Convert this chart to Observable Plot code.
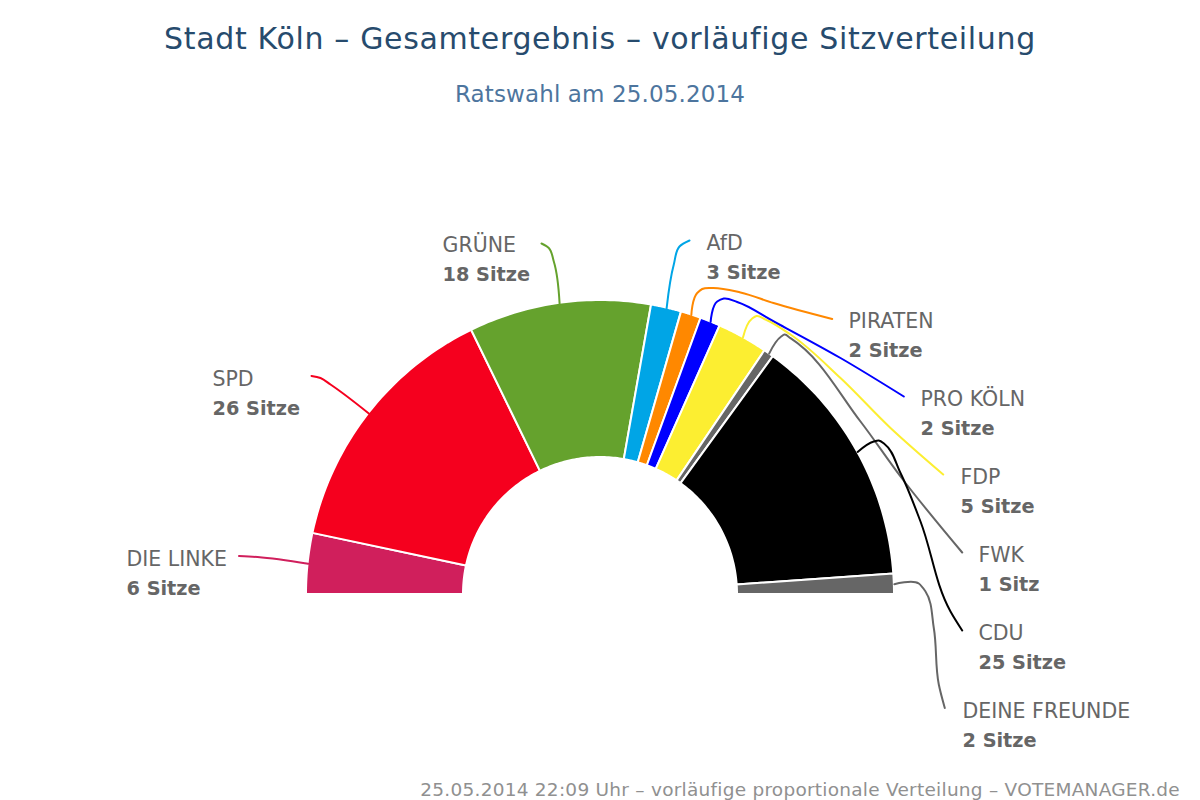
<!DOCTYPE html>
<html lang="de">
<head>
<meta charset="utf-8">
<title>Stadt Köln – Sitzverteilung</title>
<script src="https://cdn.jsdelivr.net/npm/d3@7"></script>
<script src="https://cdn.jsdelivr.net/npm/@observablehq/plot@0.6"></script>
<style>
  html, body { margin: 0; padding: 0; background: #fff; }
  body { width: 1200px; height: 800px; overflow: hidden; position: relative; font-family: "DejaVu Sans", sans-serif; }
  #head { height: 120px; position: relative; }
  #t1, #t2, #foot { position: absolute; white-space: nowrap; }
  #t1 { left: 0; width: 1200px; text-align: center; top: 19px; line-height: 40px; font-size: 30px; letter-spacing: 0.66px; color: #274b6d; }
  #t2 { left: 0; width: 1200px; text-align: center; top: 79px; line-height: 30px; font-size: 23px; letter-spacing: 0.13px; color: #4d759e; }
  #foot { right: 20px; top: 777px; line-height: 26px; font-size: 18.5px; letter-spacing: 0.25px; color: #909090; }
  #chart svg { display: block; }
</style>
</head>
<body>
<div id="head">
  <div id="t1">Stadt Köln – Gesamtergebnis – vorläufige Sitzverteilung</div>
  <div id="t2">Ratswahl am 25.05.2014</div>
</div>
<div id="chart"></div>
<div id="foot">25.05.2014 22:09 Uhr – vorläufige proportionale Verteilung – VOTEMANAGER.de</div>
<script>
// Data
const parties = ["DIE LINKE", "SPD", "GRÜNE", "AfD", "PIRATEN", "PRO KÖLN", "FDP", "FWK", "CDU", "DEINE FREUNDE"];
const seats = [6, 26, 18, 3, 2, 2, 5, 1, 25, 2];
const seatLabels = ["6 Sitze", "26 Sitze", "18 Sitze", "3 Sitze", "2 Sitze", "2 Sitze", "5 Sitze", "1 Sitz", "25 Sitze", "2 Sitze"];
const partyColors = ["#d01f5c", "#f5001e", "#65a22d", "#00a5e6", "#ff8800", "#0000ff", "#fcee31", "#666666", "#000000", "#666666"];

// Label layout, in chart units (origin = centre of the arc, y upward)
const labelX = [-474, -388, -158, 106, 248, 320, 360, 378, 378, 362];
const labelY = [35, 215, 349, 351, 273, 195, 117, 39, -39, -117];

// Leader knots between the slice edge and the label, in chart units
const leaderKnots = [
  [[-343, 37.5], [-361.5, 38.5]],
  [[-270, 210], [-280, 216.5], [-289, 218.5]],
  [[-46.7, 333], [-51.7, 346.5], [-59, 351]],
  [[73.3, 330], [79, 348], [89, 354]],
  [[96.7, 301.5], [101.7, 305.5], [111.7, 306.5], [140, 302], [173, 291.5], [231.7, 275.5]],
  [[116.7, 293], [123.3, 296], [136.7, 292.5], [173.3, 273], [240, 236.5], [303.3, 198]],
  [[151.7, 276], [156, 278.5], [165, 275], [190, 260], [240, 216.5], [290, 166.5], [342.7, 120]],
  [[180.7, 258], [184, 260], [190, 256.3], [260, 173], [300, 118], [361.7, 42]],
  [[273.3, 153], [278.3, 154], [284, 150.5], [300, 121.5], [320, 73], [350, -17], [361.7, -36]],
  [[318.3, 11], [325, 3], [333.3, -33.5], [338.3, -90], [344.3, -113.5]]
];

// Geometry of the half ring, in seats and chart units
const totalSeats = d3.sum(seats);
const outerRadius = 294;
const innerRadius = 137;
const angleOf = (s) => Math.PI - (s / totalSeats) * Math.PI;
const cumulative = d3.cumsum(seats);

const ringPoints = parties.flatMap((party, i) => {
  const from = cumulative[i] - seats[i];
  const to = cumulative[i];
  return d3.range(0, 41).map((k) => {
    const a = angleOf(from + ((to - from) * k) / 40);
    return {
      party,
      x1: innerRadius * Math.cos(a),
      y1: innerRadius * Math.sin(a),
      x2: outerRadius * Math.cos(a),
      y2: outerRadius * Math.sin(a)
    };
  });
});

const labels = parties.map((party, i) => ({party, seatsText: seatLabels[i], x: labelX[i], y: labelY[i]}));

const leaderPoints = parties.flatMap((party, i) => {
  const a = angleOf(cumulative[i] - seats[i] / 2);
  const start = [outerRadius * Math.cos(a), outerRadius * Math.sin(a)];
  return [start, ...leaderKnots[i]].map(([x, y]) => ({party, x, y}));
});

const chart = Plot.plot({
  width: 1200,
  height: 660,
  margin: 0,
  x: {domain: [-600, 600], range: [0, 1200], axis: null},
  y: {domain: [474, -186], range: [0, 660], axis: null},
  color: {domain: parties, range: partyColors},
  style: {background: "transparent", fontFamily: "'DejaVu Sans', sans-serif"},
  marks: [
    Plot.area(ringPoints, {
      x1: "x1", y1: "y1", x2: "x2", y2: "y2", z: "party",
      fill: "party", stroke: "#ffffff", strokeWidth: 2, curve: "linear"
    }),
    Plot.line(leaderPoints, {
      x: "x", y: "y", z: "party", stroke: "party",
      strokeWidth: 2, curve: d3.curveCatmullRom.alpha(1), fill: "none"
    }),
    Plot.text(labels, {
      x: "x", y: "y", text: "party", textAnchor: "start", lineAnchor: "middle",
      fontSize: 20.5, fill: "#666666"
    }),
    Plot.text(labels, {
      x: "x", y: "y", text: "seatsText", textAnchor: "start", lineAnchor: "middle",
      fontSize: 19.3, fontWeight: "bold", fill: "#666666", dy: 29
    })
  ]
});
document.getElementById("chart").appendChild(chart);
</script>
</body>
</html>
